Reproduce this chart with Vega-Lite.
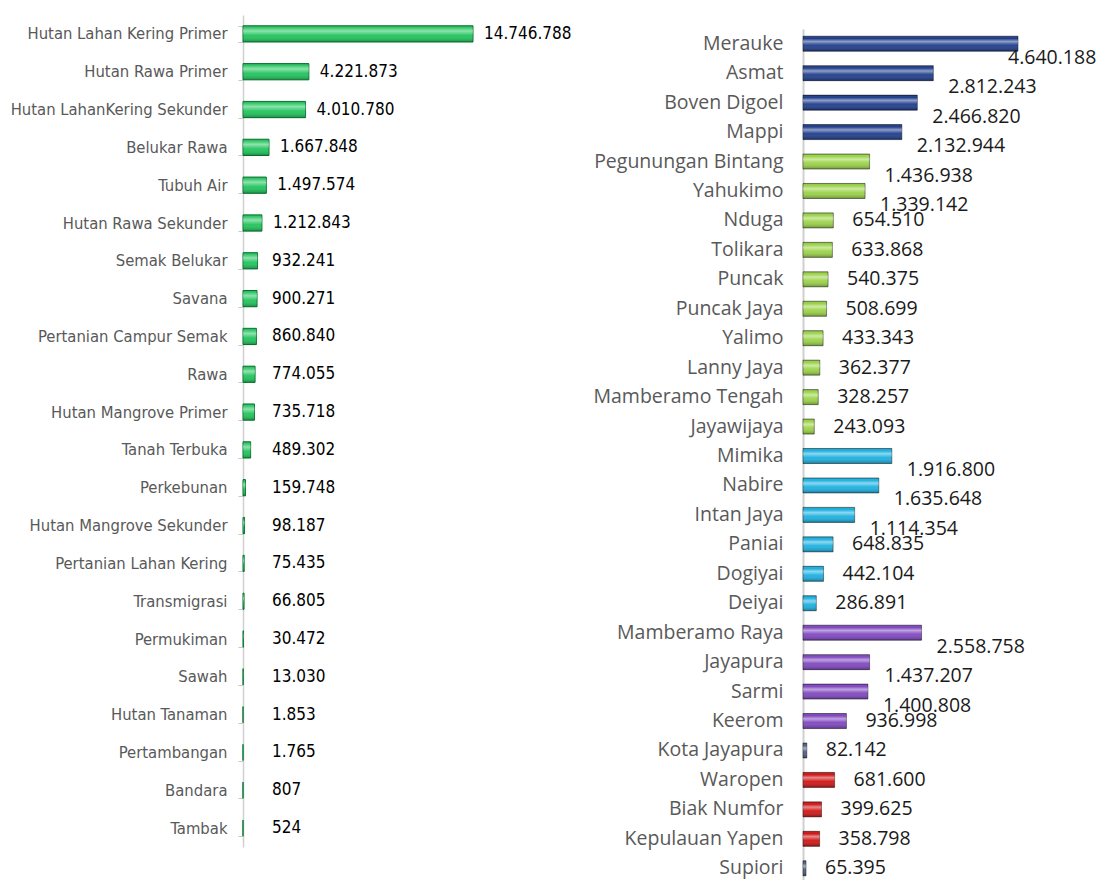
{
  "$schema": "https://vega.github.io/schema/vega-lite/v6.json",
  "padding": {"left": 5, "top": 7, "right": 0, "bottom": 0},
  "autosize": {"type": "pad"},
  "bounds": "flush",
  "spacing": 260,
  "background": "#ffffff",
  "config": {
    "view": {"stroke": null},
    "locale": {"number": {"decimal": ",", "thousands": ".", "grouping": [3], "currency": ["Rp", ""]}}
  },
  "datasets": {
    "tutupan": [
      {"kelas": "Hutan Lahan Kering Primer", "luas": 14746788},
      {"kelas": "Hutan Rawa Primer", "luas": 4221873},
      {"kelas": "Hutan LahanKering Sekunder", "luas": 4010780},
      {"kelas": "Belukar Rawa", "luas": 1667848},
      {"kelas": "Tubuh Air", "luas": 1497574},
      {"kelas": "Hutan Rawa Sekunder", "luas": 1212843},
      {"kelas": "Semak Belukar", "luas": 932241},
      {"kelas": "Savana", "luas": 900271},
      {"kelas": "Pertanian Campur Semak", "luas": 860840},
      {"kelas": "Rawa", "luas": 774055},
      {"kelas": "Hutan Mangrove Primer", "luas": 735718},
      {"kelas": "Tanah Terbuka", "luas": 489302},
      {"kelas": "Perkebunan", "luas": 159748},
      {"kelas": "Hutan Mangrove Sekunder", "luas": 98187},
      {"kelas": "Pertanian Lahan Kering", "luas": 75435},
      {"kelas": "Transmigrasi", "luas": 66805},
      {"kelas": "Permukiman", "luas": 30472},
      {"kelas": "Sawah", "luas": 13030},
      {"kelas": "Hutan Tanaman", "luas": 1853},
      {"kelas": "Pertambangan", "luas": 1765},
      {"kelas": "Bandara", "luas": 807},
      {"kelas": "Tambak", "luas": 524}
    ],
    "wilayah": [
      {"nama": "Merauke", "grup": "Selatan", "luas": 4640188},
      {"nama": "Asmat", "grup": "Selatan", "luas": 2812243},
      {"nama": "Boven Digoel", "grup": "Selatan", "luas": 2466820},
      {"nama": "Mappi", "grup": "Selatan", "luas": 2132944},
      {"nama": "Pegunungan Bintang", "grup": "Pegunungan", "luas": 1436938},
      {"nama": "Yahukimo", "grup": "Pegunungan", "luas": 1339142},
      {"nama": "Nduga", "grup": "Pegunungan", "luas": 654510},
      {"nama": "Tolikara", "grup": "Pegunungan", "luas": 633868},
      {"nama": "Puncak", "grup": "Pegunungan", "luas": 540375},
      {"nama": "Puncak Jaya", "grup": "Pegunungan", "luas": 508699},
      {"nama": "Yalimo", "grup": "Pegunungan", "luas": 433343},
      {"nama": "Lanny Jaya", "grup": "Pegunungan", "luas": 362377},
      {"nama": "Mamberamo Tengah", "grup": "Pegunungan", "luas": 328257},
      {"nama": "Jayawijaya", "grup": "Pegunungan", "luas": 243093},
      {"nama": "Mimika", "grup": "Tengah", "luas": 1916800},
      {"nama": "Nabire", "grup": "Tengah", "luas": 1635648},
      {"nama": "Intan Jaya", "grup": "Tengah", "luas": 1114354},
      {"nama": "Paniai", "grup": "Tengah", "luas": 648835},
      {"nama": "Dogiyai", "grup": "Tengah", "luas": 442104},
      {"nama": "Deiyai", "grup": "Tengah", "luas": 286891},
      {"nama": "Mamberamo Raya", "grup": "Tabi", "luas": 2558758},
      {"nama": "Jayapura", "grup": "Tabi", "luas": 1437207},
      {"nama": "Sarmi", "grup": "Tabi", "luas": 1400808},
      {"nama": "Keerom", "grup": "Tabi", "luas": 936998},
      {"nama": "Kota Jayapura", "grup": "Kecil", "luas": 82142},
      {"nama": "Waropen", "grup": "Saireri", "luas": 681600},
      {"nama": "Biak Numfor", "grup": "Saireri", "luas": 399625},
      {"nama": "Kepulauan Yapen", "grup": "Saireri", "luas": 358798},
      {"nama": "Supiori", "grup": "Kecil", "luas": 65395}
    ]
  },
  "hconcat": [
    {
      "width": 300,
      "height": 864,
      "data": {"name": "tutupan"},
      "encoding": {
        "y": {
          "field": "kelas",
          "type": "nominal",
          "sort": null,
          "scale": {"range": [0, 832], "paddingInner": 0.57, "paddingOuter": 0.285},
          "axis": {
            "title": null,
            "domainColor": "#d0d0d0",
            "domainWidth": 1.5,
            "tickColor": "#c8c8c8",
            "tickSize": 5,
            "tickBand": "extent",
            "labelFont": "'DejaVu Sans Condensed', Lato, sans-serif",
            "labelFontSize": 16.5,
            "labelColor": "#595959",
            "labelPadding": 11,
            "labelLimit": 400,
            "minExtent": 238,
            "maxExtent": 238
          }
        }
      },
      "layer": [
        {
          "mark": {"type": "bar", "color": "#20c45c", "stroke": "#0b7a33", "strokeWidth": 1},
          "encoding": {
            "x": {"field": "luas", "type": "quantitative", "scale": {"domain": [0, 19234941], "nice": false}, "axis": null}
          }
        },
        {
          "mark": {
            "type": "bar",
            "fill": {
              "gradient": "linear", "x1": 0, "y1": 0, "x2": 0, "y2": 1,
              "stops": [
                {"offset": 0, "color": "rgba(0,0,0,0.15)"},
                {"offset": 0.12, "color": "rgba(255,255,255,0.1)"},
                {"offset": 0.32, "color": "rgba(255,255,255,0.5)"},
                {"offset": 0.6, "color": "rgba(255,255,255,0.05)"},
                {"offset": 1, "color": "rgba(0,0,0,0.28)"}
              ]
            }
          },
          "encoding": {"x": {"field": "luas", "type": "quantitative"}}
        },
        {
          "transform": [{"filter": "datum.luas >= 1000000"}],
          "mark": {"type": "text", "align": "left", "baseline": "middle", "dx": 11, "font": "'DejaVu Sans Condensed', Lato, sans-serif", "fontSize": 17, "color": "#000000"},
          "encoding": {
            "x": {"field": "luas", "type": "quantitative"},
            "text": {"field": "luas", "type": "quantitative", "format": ",d"}
          }
        },
        {
          "transform": [{"filter": "datum.luas < 1000000"}],
          "mark": {"type": "text", "align": "left", "baseline": "middle", "dx": 29, "font": "'DejaVu Sans Condensed', Lato, sans-serif", "fontSize": 17, "color": "#000000"},
          "encoding": {
            "x": {"datum": 0, "type": "quantitative"},
            "text": {"field": "luas", "type": "quantitative", "format": ",d"}
          }
        }
      ]
    },
    {
      "width": 290,
      "height": 868,
      "data": {"name": "wilayah"},
      "encoding": {
        "y": {
          "field": "nama",
          "type": "nominal",
          "sort": null,
          "scale": {"range": [14, 868], "paddingInner": 0.49, "paddingOuter": 0.245},
          "axis": {
            "title": null,
            "domainColor": "#d0d0d0",
            "domainWidth": 2,
            "ticks": false,
            "labelFont": "Open Sans",
            "labelFontSize": 19.5,
            "labelColor": "#595959",
            "labelPadding": 20,
            "labelLimit": 400
          }
        }
      },
      "layer": [
        {
          "mark": {"type": "bar", "stroke": "rgba(0,0,0,0.45)", "strokeWidth": 1},
          "encoding": {
            "x": {"field": "luas", "type": "quantitative", "scale": {"domain": [0, 6258858], "nice": false}, "axis": null},
            "color": {
              "field": "grup",
              "type": "nominal",
              "scale": {
                "domain": ["Selatan", "Pegunungan", "Tengah", "Tabi", "Kecil", "Saireri"],
                "range": ["#1f3d8c", "#9bd348", "#1cb0e0", "#8047c0", "#4d6080", "#d01515"]
              },
              "legend": null
            }
          }
        },
        {
          "mark": {
            "type": "bar",
            "fill": {
              "gradient": "linear", "x1": 0, "y1": 0, "x2": 0, "y2": 1,
              "stops": [
                {"offset": 0, "color": "rgba(0,0,0,0.2)"},
                {"offset": 0.15, "color": "rgba(255,255,255,0.0)"},
                {"offset": 0.35, "color": "rgba(255,255,255,0.5)"},
                {"offset": 0.6, "color": "rgba(255,255,255,0.05)"},
                {"offset": 1, "color": "rgba(0,0,0,0.3)"}
              ]
            }
          },
          "encoding": {"x": {"field": "luas", "type": "quantitative"}}
        },
        {
          "transform": [{"filter": "datum.luas >= 1000000 && datum.nama != 'Merauke'"}],
          "mark": {"type": "text", "align": "left", "baseline": "middle", "dx": 15, "dy": 14, "font": "Open Sans", "fontSize": 19.5, "color": "#1a1a1a"},
          "encoding": {
            "x": {"field": "luas", "type": "quantitative"},
            "text": {"field": "luas", "type": "quantitative", "format": ",d"}
          }
        },
        {
          "transform": [{"filter": "datum.nama == 'Merauke'"}],
          "mark": {"type": "text", "align": "left", "baseline": "middle", "dx": -10, "dy": 14, "font": "Open Sans", "fontSize": 19.5, "color": "#1a1a1a"},
          "encoding": {
            "x": {"field": "luas", "type": "quantitative"},
            "text": {"field": "luas", "type": "quantitative", "format": ",d"}
          }
        },
        {
          "transform": [{"filter": "datum.luas < 1000000"}],
          "mark": {"type": "text", "align": "left", "baseline": "middle", "dx": 19, "font": "Open Sans", "fontSize": 19.5, "color": "#1a1a1a"},
          "encoding": {
            "x": {"field": "luas", "type": "quantitative"},
            "text": {"field": "luas", "type": "quantitative", "format": ",d"}
          }
        }
      ]
    }
  ]
}
